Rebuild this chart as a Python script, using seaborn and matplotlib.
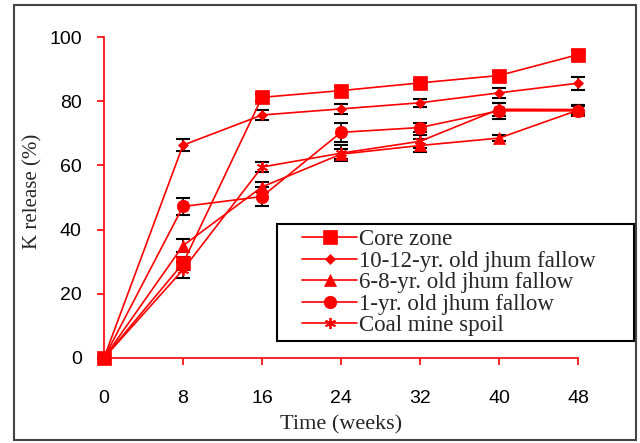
import matplotlib
matplotlib.use("Agg")
import matplotlib.pyplot as plt
import seaborn as sns
from matplotlib.patches import Rectangle

weeks = [0, 8, 16, 24, 32, 40, 48]

core_zone = [0, 29.5, 81.2, 83.3, 85.7, 88.0, 94.5]
core_err = [0, 2.0, 1.0, 1.0, 1.0, 1.2, 1.2]

fallow_10_12 = [0, 66.3, 75.7, 77.6, 79.5, 82.6, 85.6]
fallow_10_12_err = [0, 1.8, 1.5, 1.5, 1.2, 1.5, 2.0]

fallow_6_8 = [0, 35.0, 53.3, 63.5, 66.2, 68.5, 77.2]
fallow_6_8_err = [0, 2.0, 1.5, 1.5, 2.0, 1.0, 1.5]

fallow_1 = [0, 47.2, 50.3, 70.3, 71.8, 77.0, 77.0]
fallow_1_err = [0, 2.7, 3.0, 3.0, 1.5, 2.5, 1.5]

coal_spoil = [0, 27.5, 59.5, 63.8, 67.5, 77.5, 77.4]
coal_spoil_err = [0, 2.5, 1.5, 2.5, 2.0, 2.0, 1.5]

series_names = ["Core zone", "10-12-yr. old jhum fallow", "6-8-yr. old jhum fallow",
                "1-yr. old jhum fallow", "Coal mine spoil"]

sns.set_style("white")
plt.rcParams['font.family'] = ['Liberation Sans', 'DejaVu Sans']

fig = plt.figure(figsize=(6.4, 4.43), dpi=100)
ax = fig.add_axes([104 / 640, 1 - 358 / 443, 474 / 640, 321 / 443])

red = "#ff0000"
styles = [
    (core_zone, core_err, dict(marker="s", markersize=10)),
    (fallow_10_12, fallow_10_12_err, dict(marker="D", markersize=5.5)),
    (fallow_6_8, fallow_6_8_err, dict(marker="^", markersize=8.5)),
    (fallow_1, fallow_1_err, dict(marker="o", markersize=9)),
    (coal_spoil, coal_spoil_err, dict(marker=(6, 2, 0), markersize=8, markeredgewidth=1.3)),
]

for name, (vals, errs, mk) in zip(series_names, styles):
    # black error bars first, then the red line with markers on top
    ax.errorbar(weeks, vals, yerr=errs, fmt="none", ecolor="black",
                elinewidth=1.2, capsize=5, capthick=1.5, zorder=2, clip_on=False)
    mk.setdefault("markeredgewidth", 0.5)
    sns.lineplot(x=weeks, y=vals, ax=ax, color=red, linewidth=1.2, label=name,
                 markeredgecolor=red, markerfacecolor=red, clip_on=False, zorder=3, **mk)

ax.set_xlim(0, 48)
ax.set_ylim(0, 100)
ax.set_xticks(weeks)
ax.set_yticks([0, 20, 40, 60, 80, 100])

for side in ["top", "right"]:
    ax.spines[side].set_visible(False)
for side in ["left", "bottom"]:
    ax.spines[side].set_color(red)
    ax.spines[side].set_linewidth(1.2)

ax.tick_params(axis="both", direction="out", length=5, width=1.2, color=red,
               labelsize=14, labelcolor="black", left=True, bottom=True)
ax.tick_params(axis="x", pad=18)
ax.tick_params(axis="y", pad=11)

ax.set_xlabel("Time (weeks)", family="Liberation Serif", fontsize=16)
ax.set_ylabel("K release (%)", family="Liberation Serif", fontsize=15)
ax.xaxis.set_label_coords(0.5, -(415 - 358) / 321)
ax.yaxis.set_label_coords(-(104 - 42) / 474, (358 - 191) / 321)

leg = ax.legend(loc="upper left", bbox_to_anchor=(302 / 640, 1 - 229 / 443),
                bbox_transform=fig.transFigure, frameon=False,
                prop={"family": "Liberation Serif", "size": 16.5},
                handlelength=2.4, handletextpad=0.1, labelspacing=0.02,
                borderpad=0, borderaxespad=0)

fig.patches.append(Rectangle((277 / 640, 1 - 341 / 443), 357 / 640, 117 / 443,
                             transform=fig.transFigure, fill=False,
                             edgecolor="black", linewidth=1.5, zorder=10))
fig.patches.append(Rectangle((14 / 640, 1 - 440 / 443), 622 / 640, 435 / 443,
                             transform=fig.transFigure, fill=False,
                             edgecolor="#444444", linewidth=1.5))

fig.savefig("out.png", dpi=100)
